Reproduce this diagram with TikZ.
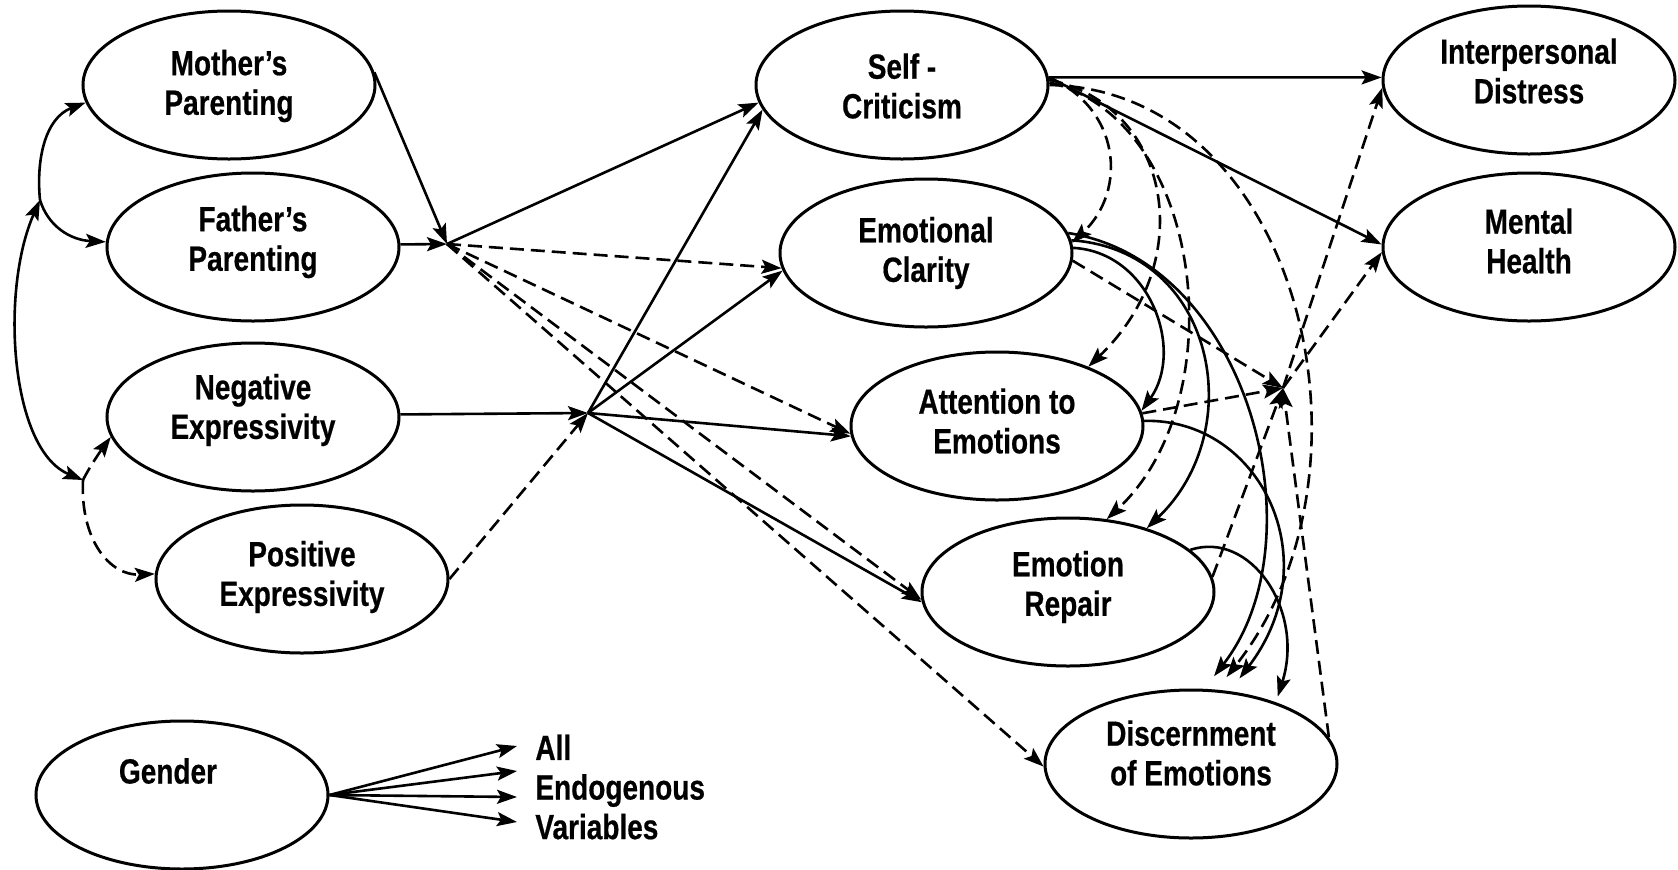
\documentclass[tikz,border=0pt]{standalone}
\usepackage{fontspec}
\setmainfont{Liberation Sans}[FakeStretch=0.80,BoldFeatures={FakeBold=0.5}]
\usetikzlibrary{arrows.meta,shapes.geometric}
\begin{document}
\begin{tikzpicture}[x=0.5pt,y=-0.5pt,
  var/.style={ellipse,draw,line width=1.5pt,minimum width=146pt,minimum height=74pt,inner sep=0pt},
  txt/.style={font=\fontsize{17.5}{19.8}\selectfont\bfseries,align=center,inner sep=0pt},
  lbl/.style={font=\fontsize{17.5}{19.8}\selectfont\bfseries,align=left,inner sep=0pt},
  conn/.style={line width=1.3pt},
  tip/.tip={Stealth[length=10pt,width=7pt,inset=2pt]},
  arr/.style={conn,-tip},
  darr/.style={arr,dash pattern=on 7pt off 3.5pt},
  dblarr/.style={conn,tip-tip},
  gap/.style={shorten >=8pt}
]
\useasboundingbox (0,0) rectangle (1678,869);

% ellipses
\node[var] (mo) at (229,85) {};
\node[var] (fa) at (253,247) {};
\node[var] (ne) at (253,417) {};
\node[var] (po) at (302,579) {};
\node[var] (ge) at (182,795) {};
\node[var] (sc) at (902,85) {};
\node[var] (cl) at (926,253) {};
\node[var] (at) at (997,426) {};
\node[var] (re) at (1068,592) {};
\node[var] (di) at (1191,764) {};
\node[var] (id) at (1529,80) {};
\node[var] (mh) at (1529,247) {};

% texts
\node[txt] (mot) at (229,86) {Mother’s\\Parenting};
\node[txt] (fat) at (253,242) {Father’s\\Parenting};
\node[txt] (net) at (253,410) {Negative\\Expressivity};
\node[txt] (pot) at (302,577) {Positive\\Expressivity};
\node[txt] (get) at (168,771) {Gender};
\node[txt] (sct) at (902,86) {Self -\\Criticism};
\node[txt] (clt) at (926,253) {Emotional\\Clarity};
\node[txt] (att) at (997,421) {Attention to\\Emotions};
\node[txt] (ret) at (1068,587) {Emotion\\Repair};
\node[txt] (dit) at (1191,753) {Discernment\\of Emotions};
\node[txt] (idt) at (1529,71) {Interpersonal\\Distress};
\node[txt] (mht) at (1529,241) {Mental\\Health};
\node[lbl,anchor=west] (endo) at (535,787) {All\\Endogenous\\Variables};

% junctions
\coordinate (J1) at (447,244);
\coordinate (J2) at (588,413);
\coordinate (J3) at (1283,388);
\coordinate (A) at (40,200);
\coordinate (B) at (83,480);
\coordinate (g1) at (517,746);
\coordinate (g2) at (517,771);
\coordinate (g3) at (517,797);
\coordinate (g4) at (517,822);

% left correlations
\draw[arr] (A) .. controls (36,160) and (45,118) .. (mo.187);
\draw[arr] (A) .. controls (48,226) and (70,240) .. (fa.178);
\draw[dblarr] (A) .. controls (0,290) and (10,450) .. (B);
\draw[darr] (B) .. controls (90,466) and (102,449) .. (ne.188);
\draw[darr] (B) .. controls (80,540) and (110,576) .. (po.178);

% parenting junction
\draw[arr] (mo.5) -- (J1);
\draw[arr] (fa.1) -- (J1);
\draw[arr] (J1) -- (sc.187);
\draw[darr] (J1) -- (cl.186);
\draw[darr] (J1) -- (at.183);
\draw[darr] (J1) -- (re.183);
\draw[darr] (J1) -- (di.181);

% expressivity junction
\draw[arr] (ne.1) -- (J2);
\draw[darr] (po.0) -- (J2);
\draw[arr] (J2) -- (sc.190);
\draw[arr] (J2) -- (cl.187);
\draw[arr] (J2) -- (at.184);
\draw[arr] (J2) -- (re.184);

% self-criticism
\draw[arr] (sc.3) -- (id.179);
\draw[arr] (sc.3) -- (mh.179);
\draw[darr] (sc.3) .. controls (1120,108) and (1128,190) .. (cl.4);
\draw[darr] (sc.2) .. controls (1170,105) and (1200,260) .. (at.33);
\draw[darr] (sc.1) .. controls (1205,120) and (1235,400) .. (re.62);
\draw[darr,gap] (sc.0) .. controls (1300,90) and (1390,470) .. (di.71);

% emotional clarity
\draw[arr] (cl.2) .. controls (1150,252) and (1185,350) .. (at.6);
\draw[arr] (cl.5) .. controls (1215,250) and (1250,430) .. (re.39);
\draw[arr,gap] (cl.8) .. controls (1250,262) and (1320,540) .. (di.80);
\draw[darr] (cl.357) -- (J3);

% attention
\draw[darr] (at.5) -- (J3);
\draw[arr,gap] (at.2) .. controls (1260,418) and (1330,560) .. (di.62);

% repair
\draw[darr] (re.6) -- (J3);
\draw[arr,shorten >=3pt] (re.19) .. controls (1250,530) and (1305,610) .. (di.36);

% discernment
\draw[darr] (di.11) -- (J3);

% outcomes
\draw[darr] (J3) -- (id.183);
\draw[darr] (J3) -- (mh.182);

% gender
\draw[arr] (ge.east) -- (g1);
\draw[arr] (ge.east) -- (g2);
\draw[arr] (ge.east) -- (g3);
\draw[arr] (ge.east) -- (g4);
\end{tikzpicture}
\end{document}
